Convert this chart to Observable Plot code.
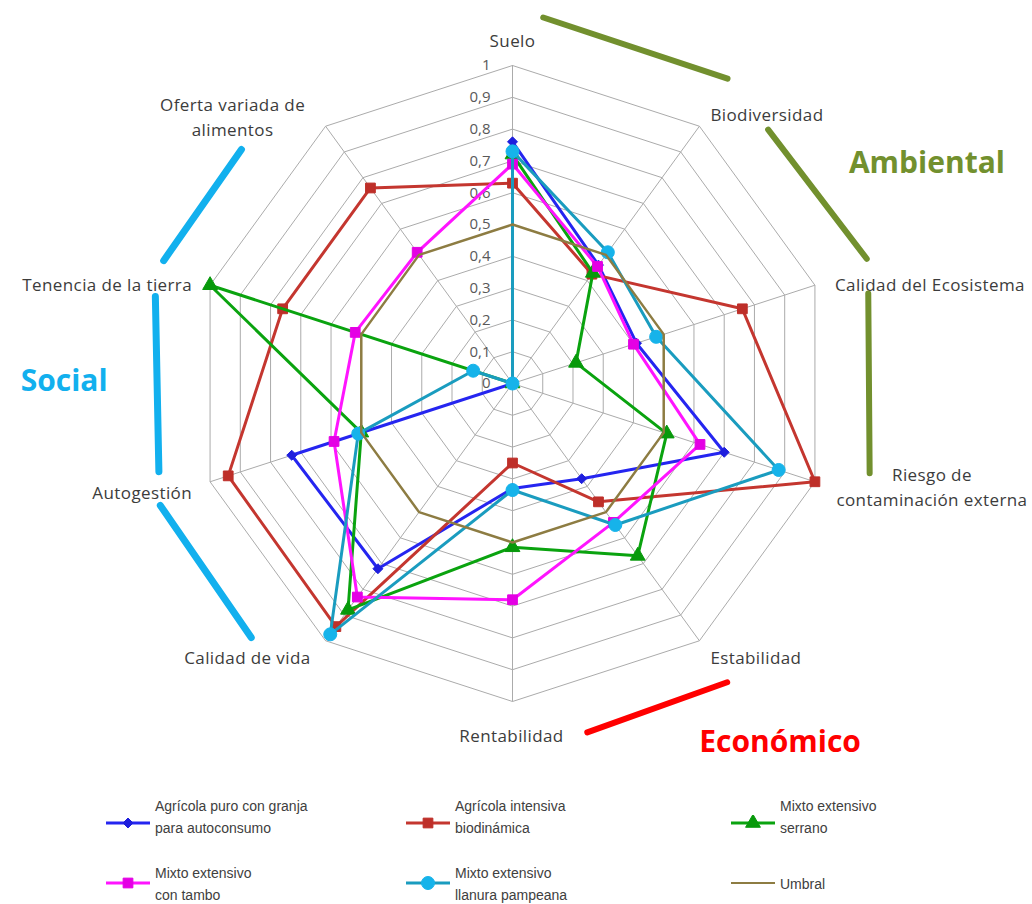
<!DOCTYPE html>
<html><head><meta charset="utf-8">
<script src="https://cdn.jsdelivr.net/npm/d3@7"></script>
<script src="https://cdn.jsdelivr.net/npm/@observablehq/plot@0.6"></script>
<style>
body{margin:0;background:#fff;width:1032px;height:904px;overflow:hidden;position:relative;font-family:"Open Sans",sans-serif;}
#chart{position:absolute;left:0;top:0;}
#chart g[font-size="17"] text{letter-spacing:0.4px;}
.legtext{position:absolute;font-family:"Liberation Sans",Arial,sans-serif;font-size:14px;line-height:22px;color:#404040;white-space:nowrap;}
.legsym{position:absolute;}
</style></head><body>
<div id="chart"></div>
<div id="legend"></div>
<script>
// ---- data ----
const categories = ["Suelo","Biodiversidad","Calidad del Ecosistema","Riesgo de\ncontaminación externa","Estabilidad","Rentabilidad","Calidad de vida","Autogestión","Tenencia de la tierra","Oferta variada de\nalimentos"];
const seriesNames = ["Agrícola puro con granja\npara autoconsumo","Agrícola intensiva\nbiodinámica","Mixto extensivo\nserrano","Mixto extensivo\ncon tambo","Mixto extensivo\nllanura pampeana","Umbral"];
const agricolaPuro      = [0.76, 0.46, 0.41, 0.70, 0.37, 0.33, 0.72, 0.73, 0.00, 0.00];
const agricolaIntensiva = [0.63, 0.425,0.76, 1.00, 0.46, 0.25, 0.945,0.94, 0.76, 0.76];
const mixtoSerrano      = [0.72, 0.43, 0.21, 0.51, 0.67, 0.515,0.88, 0.50, 1.00, 0.00];
const mixtoTambo        = [0.69, 0.455,0.40, 0.62, 0.54, 0.68, 0.83, 0.59, 0.52, 0.51];
const mixtoPampeana     = [0.73, 0.51, 0.475,0.88, 0.55, 0.335,0.975,0.51, 0.13, 0.00];
const umbral            = [0.50, 0.50, 0.50, 0.50, 0.50, 0.50, 0.50, 0.50, 0.50, 0.50];
const tickValues = [0,0.1,0.2,0.3,0.4,0.5,0.6,0.7,0.8,0.9,1];
const tickLabels = ["0","0,1","0,2","0,3","0,4","0,5","0,6","0,7","0,8","0,9","1"];
const groupNames = ["Ambiental","Económico","Social"];

// ---- styles / layout ----
const W = 1032, H = 775, CX = 512, CY = 383, R = 318;
const seriesStyle = [
  {color:"#2525F0", marker:"diamond2", fill:"#1E1EDD", r:4.5, width:3},
  {color:"#C4362F", marker:"square",   fill:"#BE2F29", r:5.5, width:3},
  {color:"#0AA30F", marker:"triangle", fill:"#07990B", r:5.5, width:3},
  {color:"#FF14FF", marker:"square",   fill:"#E400E4", r:5.5, width:3},
  {color:"#1A9CBF", marker:"circle",   fill:"#16B3EA", r:6.5, width:3},
  {color:"#8D7C42", marker:null, width:2.5}
];
const labelLayout = [
  {dx:0, dy:-27, anchor:"middle"},
  {dx:11, dy:-13, anchor:"start"},
  {dx:20, dy:-2, anchor:"start"},
  {dx:117, dy:4, anchor:"middle"},
  {dx:11, dy:15, anchor:"start"},
  {dx:-1, dy:32, anchor:"middle"},
  {dx:-15, dy:15, anchor:"end"},
  {dx:-18, dy:9, anchor:"end"},
  {dx:-18, dy:-2, anchor:"end"},
  {dx:-93, dy:-11, anchor:"middle"}
];
// group brackets in polar form: [angle°, radius]
const brackets = [
  {color:"#72902E", width:6, segs:[[[4.8,1.155],[35.2,1.173]],[[45.2,1.133],[70.6,1.181]],[[75.8,1.154],[104.1,1.158]]], label:[62.0,1.476], fill:"#72902E"},
  {color:"#FF0000", width:6, segs:[[[167.9,1.122],[144.3,1.157]]], label:[143.3,1.408], fill:"#FF0000"},
  {color:"#12B0EE", width:7, segs:[[[310.8,1.126],[289.4,1.163]],[[283.7,1.156],[256.0,1.146]],[[250.9,1.172],[225.8,1.146]]], label:[270.3,1.41], fill:"#12B0EE"}
];

// ---- geometry helpers ----
const N = categories.length;
const ang = i => i * 2 * Math.PI / N;
const px = (i, v) => v * Math.sin(ang(i));
const py = (i, v) => v * Math.cos(ang(i));
const pol = ([a, r]) => ({x: r * Math.sin(a * Math.PI / 180), y: r * Math.cos(a * Math.PI / 180)});

const seriesValues = [agricolaPuro, agricolaIntensiva, mixtoSerrano, mixtoTambo, mixtoPampeana, umbral];
const points = seriesValues.flatMap((vals, s) => vals.map((v, i) => ({s, axis: categories[i], value: v, x: px(i, v), y: py(i, v)})));
const rings = tickValues.slice(1).flatMap(t => d3.range(N + 1).map(i => ({t, x: px(i % N, t), y: py(i % N, t)})));
const spokes = categories.map((c, i) => ({x1: 0, y1: 0, x2: px(i, 1), y2: py(i, 1)}));
const ticks = tickValues.map((t, i) => ({t, label: tickLabels[i]}));

const marks = [
  Plot.line(rings, {x:"x", y:"y", z:"t", stroke:"#ABABAB", strokeWidth:1}),
  Plot.link(spokes, {x1:"x1", y1:"y1", x2:"x2", y2:"y2", stroke:"#ABABAB", strokeWidth:1}),
  Plot.text(ticks, {x:0, y:"t", text:"label", dx:-22, textAnchor:"end", fontSize:15, fill:"#595959"})
];
seriesValues.forEach((vals, s) => {
  const st = seriesStyle[s];
  const data = points.filter(p => p.s === s);
  marks.push(Plot.line(data, {x:"x", y:"y", curve:"linear-closed", stroke:st.color, strokeWidth:st.width, strokeLinejoin:"round"}));
  if (st.marker) marks.push(Plot.dot(data, {x:"x", y:"y", symbol:st.marker, r:st.r, fill:st.fill, stroke:st.fill, strokeWidth:1}));
});
categories.forEach((c, i) => {
  const L = labelLayout[i];
  marks.push(Plot.text([{x: px(i, 1), y: py(i, 1), c}], {x:"x", y:"y", text:"c", dx:L.dx, dy:L.dy, textAnchor:L.anchor, lineHeight:1.47, fontSize:17, fill:"#3C3C3C"}));
});
brackets.forEach((b, g) => {
  b.segs.forEach(seg => marks.push(Plot.line(seg.map(pol), {x:"x", y:"y", stroke:b.color, strokeWidth:b.width, strokeLinecap:"round"})));
  marks.push(Plot.text([{...pol(b.label), name: groupNames[g]}], {x:"x", y:"y", text:"name", fontSize:30, fontWeight:"bold", fill:b.fill, textAnchor:"middle"}));
});

const chart = Plot.plot({
  width: W, height: H, margin: 0,
  x: {domain: [-CX / R, (W - CX) / R], axis: null},
  y: {domain: [-(H - CY) / R, CY / R], axis: null},
  style: {fontFamily: "'Open Sans', sans-serif", background: "#fff", overflow: "visible"},
  marks
});
document.getElementById("chart").append(chart);

// ---- legend ----
const legCols = [105, 405, 730], legSymY = [823, 883], legTextTop = [795, 862];
const legend = document.getElementById("legend");
seriesNames.forEach((name, s) => {
  const col = s % 3, row = Math.floor(s / 3), st = seriesStyle[s];
  const svg = d3.create("svg").attr("class", "legsym").attr("width", 46).attr("height", 16)
    .style("left", legCols[col] + "px").style("top", (legSymY[row] - 8) + "px");
  svg.append("line").attr("x1", 1).attr("x2", 45).attr("y1", 8).attr("y2", 8)
    .attr("stroke", st.color).attr("stroke-width", st.marker ? 3 : 2);
  if (st.marker) {
    const symMap = {diamond2: d3.symbolDiamond2, square: d3.symbolSquare, triangle: d3.symbolTriangle, circle: d3.symbolCircle};
    svg.append("path").attr("transform", "translate(23,8)")
      .attr("d", d3.symbol(symMap[st.marker], Math.PI * st.r * st.r)())
      .attr("fill", st.fill).attr("stroke", st.fill);
  }
  legend.append(svg.node());
  const div = document.createElement("div");
  div.className = "legtext";
  div.style.left = (legCols[col] + 50) + "px";
  const lines = name.split("\n");
  div.style.top = (lines.length > 1 ? legTextTop[row] : legSymY[row] - 10) + "px";
  div.innerHTML = lines.join("<br>");
  legend.append(div);
});
</script></body></html>
